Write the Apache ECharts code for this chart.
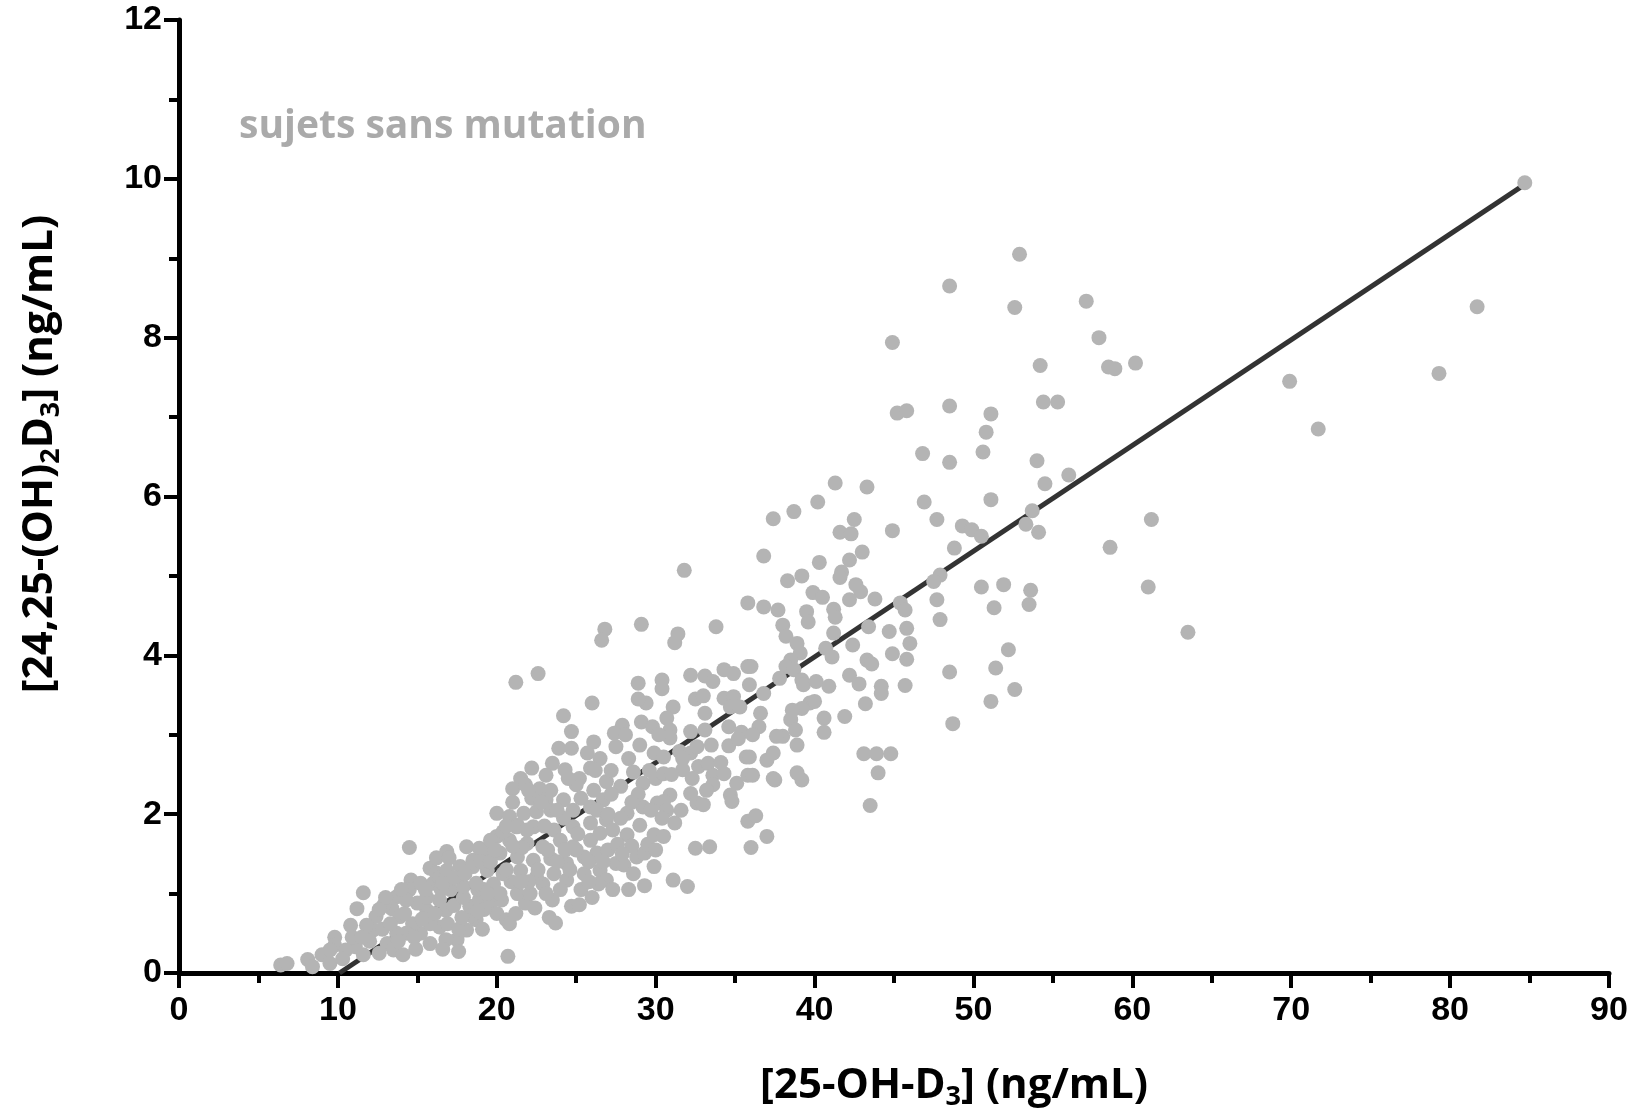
<!DOCTYPE html>
<html><head><meta charset="utf-8">
<script src="https://cdn.jsdelivr.net/npm/echarts/dist/echarts.min.js"></script>
<style>html,body{margin:0;padding:0;background:#fff}#c{width:1632px;height:1112px}</style>
</head><body><div id="c"></div>
<script>
// ---- axis settings ----
const xRange = [0, 90];      // [25-OH-D3] ng/mL
const yRange = [0, 12];      // [24,25-(OH)2D3] ng/mL
const xStep = 10;
const yStep = 2;

// ---- data: [25-OH-D3, 24,25-(OH)2D3] ----
const lowestPoints = [[6.4,0.10],[6.8,0.12],[8.1,0.17],[8.4,0.08],[9.0,0.23],[9.5,0.12],[9.8,0.45],[9.8,0.35]];

const lowCluster = [
 [14.5,1.58],[11.6,1.01],[11.2,0.81],[9.5,0.29],[10.8,0.60],[11.1,0.33],[10.5,0.29],[11.6,0.23],
 [12.4,0.71],[12.2,0.54],[13.1,0.37],[13.5,0.29],[14.1,0.23],[13.7,0.96],[13.4,0.81],[12.9,0.86],
 [14.6,1.17],[14.5,1.05],[15.2,1.13],[15.8,1.32],[16.2,1.26],[16.0,1.13],
 [18.3,0.84],[18.7,0.67],[18.1,0.54],[17.5,0.42],[17.6,0.27],[16.8,0.42],[16.4,0.58],[15.8,0.37],
 [15.2,0.50],[14.7,0.62],[14.3,0.50],[13.7,0.50],[15.6,0.79],[15.0,0.88],[14.3,0.92],[13.9,0.71],
 [16.4,0.92],[17.1,1.05],[16.8,0.79],[15.8,0.62],[20.7,0.21],[19.6,0.88],[20.0,0.75],[20.6,0.67],
 [20.8,0.62],[18.9,0.92],[23.3,0.70],
 [12.0,0.40],[12.8,0.55],[13.3,0.62],[13.8,0.40],[14.2,0.75],[14.8,0.45],[15.3,0.68],[15.6,0.95],
 [16.1,0.75],[16.5,1.05],[16.9,0.62],[17.3,0.85],[17.6,0.55],[17.9,0.95],[18.4,0.72],[18.8,1.05],
 [19.2,0.80],[19.8,1.12],[20.3,0.92],[20.9,1.15],[21.2,0.75],[21.8,0.88],[22.4,0.82],[22.9,1.12],
 [23.5,0.92],[13.0,0.95],[12.6,0.25],[11.8,0.60],[10.9,0.45],[10.3,0.18],[11.5,0.45],[14.9,0.30],
 [16.6,0.30],[19.1,0.55],
 [18.8,0.78],[16.4,1.20],[15.5,1.05],[14.0,1.05],[12.6,0.80],[17.8,0.70]
];

const midCluster = [
 [26.0,3.40],[24.2,3.24],[24.7,3.04],[27.9,3.12],[27.4,3.02],[29.1,3.16],[29.4,3.40],[26.1,2.91],
 [27.5,2.85],[29.0,2.87],[29.9,2.77],[23.9,2.83],[24.7,2.83],[25.7,2.77],[26.5,2.70],[25.9,2.58],
 [25.2,2.45],[23.5,2.64],[22.2,2.58],[23.1,2.49],[24.3,2.56],[21.5,2.45],[21.0,2.32],[21.8,2.37],
 [22.7,2.32],[23.4,2.30],[22.2,2.20],[23.1,2.18],[24.2,2.18],[25.0,2.37],[26.1,2.30],[26.9,2.41],
 [27.8,2.35],[28.6,2.53],[29.2,2.39],[20.0,2.01],[20.8,1.97],[21.7,2.01],[22.5,2.03],[23.4,2.05],
 [24.8,2.05],[25.9,2.09],[26.7,2.18],[28.2,2.01],[29.2,2.09],[30.1,2.14],[21.3,1.86],[22.3,1.84],
 [23.6,1.80],[24.8,1.84],[25.9,1.89],[26.9,1.93],[27.3,1.80],[28.2,1.74],[29.0,1.86],[29.9,1.74],
 [20.0,1.72],[20.8,1.67],[21.9,1.63],[22.9,1.59],[24.0,1.67],[24.8,1.59],[25.9,1.67],[26.5,1.76],
 [18.1,1.59],[16.85,1.53],[19.2,1.55],[20.2,1.51],[21.3,1.46],[22.3,1.42],[23.4,1.44],[24.4,1.38],
 [25.5,1.46],[26.3,1.51],[27.5,1.38],[28.8,1.46],[29.3,1.51],[29.9,1.34],[16.85,1.29],[17.7,1.34],
 [18.5,1.42],[19.4,1.29],[20.4,1.25],[21.5,1.29],[22.5,1.21],[23.6,1.25],[24.4,1.17],[25.5,1.25],
 [26.5,1.29],[26.9,1.17],[28.0,1.36],[28.3,1.05],[16.6,1.13],[17.9,1.09],[19.2,1.05],[20.2,1.00],
 [21.3,1.00],[22.1,1.00],[23.1,1.00],
 [18.9,1.57],[19.6,1.67],[20.4,1.78],[21.25,1.84],[18.5,1.34],[18.7,1.13],[19.4,1.00],
 [24.7,0.84],[25.2,0.86],[23.7,0.63],
 [24.0,1.05],[24.6,1.30],[25.3,1.05],[25.8,1.40],[26.4,1.12],[27.0,1.55],[27.6,1.62],[28.5,1.60],
 [29.5,1.62],[28.9,2.25],[30.0,2.45],[27.2,2.55],[26.3,2.05],[25.3,2.20],[24.2,1.95],[23.0,1.85],
 [22.0,2.30],[21.0,2.15],[20.6,1.30],[19.0,1.40],[17.3,1.20],[16.2,1.45],[21.6,1.58],[26.0,0.95],
 [27.8,1.95],[29.7,2.05],[28.3,2.70],
 [22.6,1.30],[23.2,1.55],[22.0,1.15],[25.0,1.55],[25.8,1.15],[26.7,1.40],[27.3,1.05],[27.9,1.50],
 [28.6,1.25],[29.3,1.10],[28.5,2.15],[29.6,2.55],[28.1,3.00],[29.8,3.10],[27.2,2.25],[26.2,2.55],
 [24.5,2.45],[23.8,2.05],[22.8,2.15],[21.9,1.80],[20.6,1.85],[19.6,1.40],[18.0,1.25],[17.0,1.45],
 [19.9,1.55],[21.0,1.60],[25.1,1.75],[27.0,2.00],[24.3,1.55],[23.8,1.40],[21.5,1.15]
];

const upperMidCluster = [
 [26.8,4.33],[26.6,4.19],[29.1,4.39],[31.4,4.27],[31.2,4.16],[33.8,4.36],[21.2,3.66],[22.6,3.77],
 [28.9,3.65],[30.4,3.69],[30.4,3.58],[32.2,3.75],[33.1,3.74],[33.6,3.67],[34.3,3.82],[34.9,3.77],
 [35.8,3.86],[28.9,3.45],[32.5,3.45],[33.0,3.49],[34.3,3.46],[34.9,3.48],[31.1,3.35],[30.7,3.21],
 [33.1,3.27],[34.7,3.35],[35.3,3.35],[30.9,3.06],[30.9,2.96],[32.2,3.04],[33.1,3.06],[35.4,3.03],
 [30.5,2.72],[31.5,2.79],[32.2,2.77],[32.6,2.85],[33.5,2.87],[34.6,2.86],[35.7,2.72],[30.5,2.51],
 [31.7,2.70],[31.7,2.56],[32.7,2.60],[33.3,2.64],[33.6,2.49],[34.3,2.51],[35.1,2.39],[35.8,2.49],
 [30.9,2.24],[30.5,2.16],[30.7,2.05],[32.2,2.26],[32.6,2.14],[33.0,2.12],[33.6,2.37],[34.7,2.24],
 [34.8,2.16],[35.8,1.91],[30.5,1.72],[31.2,1.89],[32.5,1.57],[33.4,1.59],[31.1,1.17],[32.0,1.09],
 [36.0,1.58],[37.0,1.72],[36.3,1.98],[37.5,2.43],[39.2,2.43],
 [30.2,3.00],[31.0,2.50],[32.3,2.45],[33.2,2.30],[34.1,2.65],[34.6,3.10],[35.2,2.95],
 [30.4,1.95],[31.6,2.05],[30.0,1.55]
];

const risingCluster = [
 [37.4,5.72],[38.7,5.81],[40.2,5.93],[41.6,5.55],[36.8,5.25],[40.3,5.17],[31.8,5.07],[41.7,5.05],
 [41.6,4.98],[39.2,5.00],[38.3,4.94],[39.9,4.79],[40.5,4.73],[36.8,4.61],[37.7,4.57],[35.8,4.66],
 [39.5,4.55],[39.6,4.42],[41.2,4.58],[41.3,4.48],[38.0,4.38],[38.2,4.24],[38.9,4.15],[39.1,4.03],
 [41.2,4.28],[40.7,4.09],[41.1,3.98],[41.9,3.23],[40.6,3.21],[40.6,3.03],[38.5,3.94],[38.2,3.86],
 [38.7,3.82],[37.8,3.71],[39.2,3.69],[39.3,3.63],[40.1,3.67],[40.9,3.61],[39.7,3.40],[40.0,3.42],
 [39.2,3.33],[38.6,3.31],[38.5,3.19],[38.8,3.06],[38.0,2.98],[37.6,2.98],[38.9,2.87],[36.0,3.86],
 [35.9,3.63],[36.6,3.27],[36.8,3.52],[36.5,3.10],[36.1,3.00],[35.9,2.72],[37.0,2.68],[37.4,2.77],
 [36.1,2.49],[37.4,2.45],[38.9,2.52],[41.3,6.17],[44.9,7.94]
];

const highPoints = [
 [45.2,7.05],[45.8,7.08],[48.5,7.14],[51.1,7.04],[50.8,6.81],[50.6,6.56],[54.4,7.19],[55.3,7.19],
 [46.8,6.54],[48.5,6.43],[54.0,6.45],[56.0,6.27],[54.5,6.16],[43.3,6.12],[46.9,5.93],[51.1,5.96],
 [42.5,5.71],[42.3,5.53],[44.9,5.57],[47.7,5.71],[49.3,5.63],[49.9,5.58],[50.5,5.50],[53.7,5.82],
 [53.3,5.65],[54.1,5.55],[58.6,5.36],[61.2,5.71],[43.0,5.30],[42.2,5.20],[48.8,5.35],[47.9,5.01],
 [47.5,4.93],[42.6,4.89],[42.9,4.80],[42.2,4.70],[43.8,4.71],[45.4,4.66],[45.7,4.57],[47.7,4.70],
 [47.9,4.45],[50.5,4.86],[51.9,4.89],[53.6,4.82],[53.5,4.64],[51.3,4.60],[61.0,4.86],[43.4,4.36],
 [44.7,4.30],[45.8,4.34],[46.0,4.15],[42.4,4.13],[44.9,4.02],[45.8,3.95],[43.3,3.94],[43.6,3.89],
 [52.2,4.07],[51.4,3.84],[42.2,3.75],[42.8,3.64],[44.2,3.61],[44.2,3.52],[45.7,3.62],[48.5,3.79],
 [52.6,3.57],[43.2,3.39],[51.1,3.42],[48.7,3.14],[43.1,2.76],[43.9,2.76],[44.8,2.76],[44.0,2.52],
 [43.5,2.11],
 [52.9,9.05],[48.5,8.65],[52.6,8.38],[57.1,8.46],[57.9,8.00],[54.2,7.65],[58.5,7.63],[58.9,7.61],
 [60.2,7.68],[69.9,7.45],[84.7,9.95],[81.7,8.39],[79.3,7.55],[71.7,6.85],[63.5,4.29]
];

// regression line end points
const regressionLine = [[10.1,0],[84.7,9.93]];

const allPoints = [].concat(lowestPoints, lowCluster, midCluster, upperMidCluster, risingCluster, highPoints);

const chart = echarts.init(document.getElementById('c'), null, {renderer:'canvas'});
const tickFont = {fontSize:34, fontWeight:'bold', color:'#000', fontFamily:'"Liberation Sans Narrow", "Liberation Sans", Arial, sans-serif'};
const axisCommon = {
  type:'value',
  axisLine:{show:true, onZero:false, lineStyle:{color:'#000', width:5}},
  axisTick:{show:true, inside:false, length:15, lineStyle:{color:'#000', width:4}},
  minorTick:{show:true, splitNumber:2, length:10, lineStyle:{color:'#000', width:4}},
  splitLine:{show:false}, minorSplitLine:{show:false}
};
const titleRich = {
  b:{fontSize:42, fontWeight:'bold', fontFamily:'"Open Sans", sans-serif', fill:'#000', lineHeight:50},
  s:{fontSize:27, fontWeight:'bold', fontFamily:'"Open Sans", sans-serif', fill:'#000', lineHeight:16, verticalAlign:'bottom'}
};
chart.setOption({
  animation:false,
  backgroundColor:'#fff',
  grid:{left:179, right:23, top:20, bottom:139, containLabel:false},
  xAxis:Object.assign({}, axisCommon, {min:xRange[0], max:xRange[1], interval:xStep,
    axisLabel:Object.assign({margin:21}, tickFont)}),
  yAxis:Object.assign({}, axisCommon, {min:yRange[0], max:yRange[1], interval:yStep,
    axisLabel:Object.assign({margin:17}, tickFont)}),
  series:[
    {type:'line', data:regressionLine, symbol:'none', silent:true, z:2,
     lineStyle:{color:'#333333', width:5}},
    {type:'scatter', data:allPoints, symbolSize:15, z:3,
     itemStyle:{color:'#b4b4b4', opacity:1}}
  ],
  graphic:[
    {type:'text', x:239, y:127, z:10, style:{text:'sujets sans mutation', fill:'#aaaaaa',
      font:'bold 39px "Open Sans", sans-serif', align:'left', verticalAlign:'middle'}},
    {type:'text', x:954, y:1086, z:10, style:{text:'{b|[25-OH-D}{s|3}{b|] (ng/mL)}',
      align:'center', verticalAlign:'middle', rich:titleRich}},
    {type:'text', x:40, y:454, rotation:Math.PI/2, z:10, style:{text:'{b|[24,25-(OH)}{s|2}{b|D}{s|3}{b|] (ng/mL)}',
      align:'center', verticalAlign:'middle', rich:titleRich}}
  ]
});
</script></body></html>
